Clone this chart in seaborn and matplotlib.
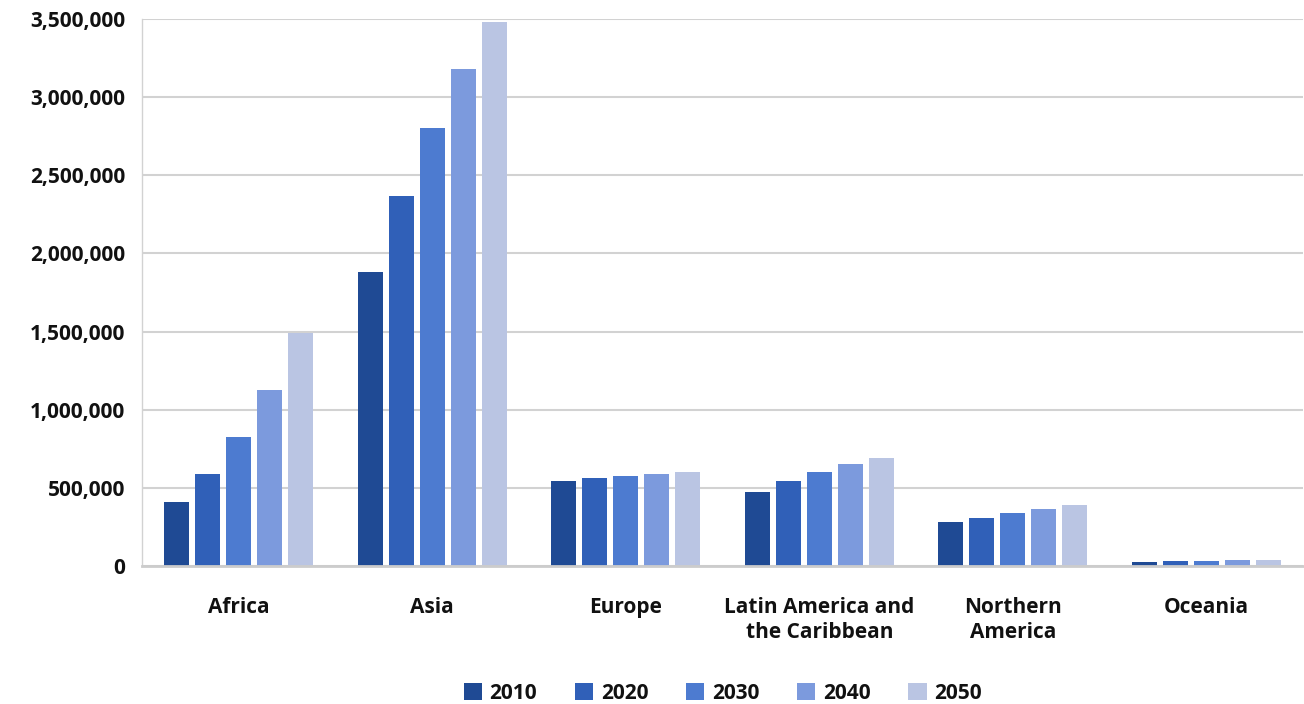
import matplotlib
matplotlib.use("Agg")
import matplotlib.pyplot as plt
import seaborn as sns
import pandas as pd
from matplotlib.ticker import FuncFormatter

regions = ["Africa", "Asia", "Europe", "Latin America and\nthe Caribbean",
           "Northern\nAmerica", "Oceania"]
years = ["2010", "2020", "2030", "2040", "2050"]

# urban population (thousands) by region and year
pop_2010 = [408000, 1881000, 544000, 474000, 282000, 26000]
pop_2020 = [587000, 2368000, 563000, 544000, 307000, 29000]
pop_2030 = [825000, 2803000, 576000, 601000, 339000, 33000]
pop_2040 = [1126000, 3180000, 589000, 653000, 365000, 37000]
pop_2050 = [1491000, 3481000, 601000, 691000, 390000, 41000]

palette = ["#1f4a94", "#3060b8", "#4d7bd0", "#7c9add", "#bac5e3"]

series = [pop_2010, pop_2020, pop_2030, pop_2040, pop_2050]
rows = []
for yr, vals in zip(years, series):
    for reg, v in zip(regions, vals):
        rows.append({"region": reg, "year": yr, "value": v})
df = pd.DataFrame(rows)

sns.set_theme(style="white")
plt.rcParams["font.family"] = ["Open Sans", "DejaVu Sans"]

fig = plt.figure(figsize=(13.04, 7.04), dpi=100)
ax = fig.add_axes([142 / 1304, 1 - 566 / 704, (1303 - 142) / 1304, (566 - 19) / 704])

sns.barplot(data=df, x="region", y="value", hue="year", order=regions,
            hue_order=years, palette=palette, width=0.8, gap=0.19,
            saturation=1, linewidth=0, ax=ax, legend=True)

ax.set_ylim(0, 3500000)
ax.set_yticks(range(0, 3500001, 500000))
ax.yaxis.set_major_formatter(FuncFormatter(lambda v, p: f"{int(v):,}"))
ax.grid(axis="y", color="#d2d2d2", linewidth=1.5)
ax.set_axisbelow(True)
ax.set_xlabel("")
ax.set_ylabel("")

for s in ["top", "right"]:
    ax.spines[s].set_visible(False)
ax.spines["left"].set_color("#d2d2d2")
ax.spines["left"].set_linewidth(1.0)
ax.spines["bottom"].set_color("#cccccc")
ax.spines["bottom"].set_linewidth(2.0)

ax.tick_params(axis="y", length=0, pad=12, labelsize=15)
ax.tick_params(axis="x", length=0, pad=22, labelsize=15)
for lab in ax.get_yticklabels() + ax.get_xticklabels():
    lab.set_fontweight("bold")
    lab.set_color("#111111")
for lab in ax.get_xticklabels():
    lab.set_linespacing(1.3)

leg = ax.legend(loc="upper center", bbox_to_anchor=(0.5, -0.198), ncol=5,
                frameon=False, fontsize=15, handlelength=0.9, handleheight=0.9,
                handletextpad=0.35, columnspacing=1.8, borderaxespad=0.2,
                borderpad=0.2)
for t in leg.get_texts():
    t.set_fontweight("bold")
    t.set_color("#111111")

fig.savefig("out.png", dpi=100, facecolor="white")
